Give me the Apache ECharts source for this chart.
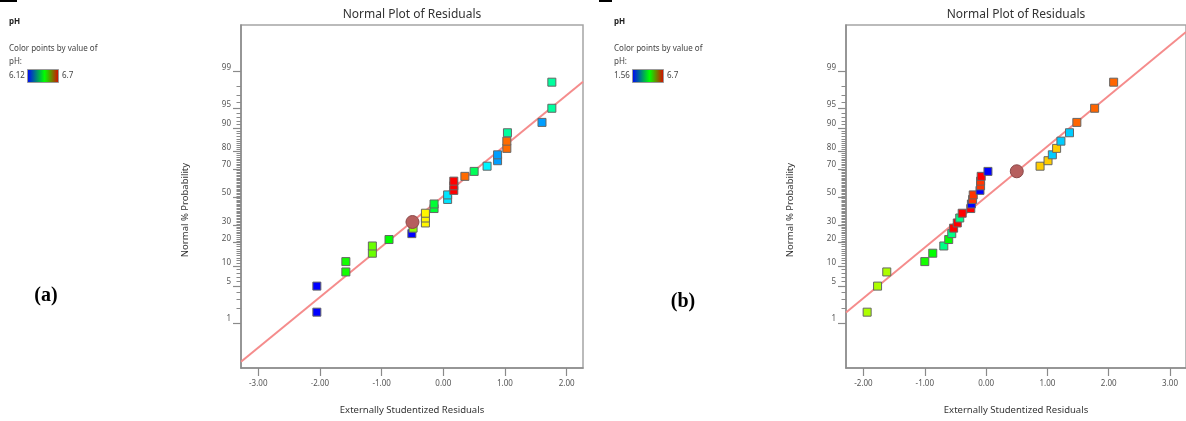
<!DOCTYPE html>
<html><head><meta charset="utf-8">
<script src="https://cdn.jsdelivr.net/npm/echarts@6/dist/echarts.min.js"></script>
<style>html,body{margin:0;padding:0;background:#fff}#c{width:1186px;height:421px}</style>
</head><body><div id="c"></div>
<script>
// ---------- data ----------
const probTickLabels = [1, 5, 10, 20, 30, 50, 70, 80, 90, 95, 99];
const xTickValuesA = [-3, -2, -1, 0, 1, 2];
const xTickValuesB = [-2, -1, 0, 1, 2, 3];

// normal % probability of each ranked residual (same for both panels, 30 runs)
const probA = [1.67, 5, 8.33, 11.67, 15, 18.33, 21.67, 25, 28.33, 31.67, 35, 38.33, 41.67, 45, 48.33,
               51.67, 55, 58.33, 61.67, 65, 68.33, 71.67, 75, 78.33, 81.67, 85, 88.33, 91.67, 95, 98.33];
const residA = [-2.05, -2.05, -1.58, -1.58, -1.15, -1.15, -0.88, -0.51, -0.49, -0.29, -0.29, -0.29, -0.15, -0.15, 0.07,
                0.07, 0.17, 0.17, 0.17, 0.35, 0.50, 0.71, 0.88, 0.88, 1.03, 1.03, 1.04, 1.60, 1.76, 1.76];
const phA = [6.12, 6.12, 6.42, 6.42, 6.47, 6.47, 6.41, 6.12, 6.49, 6.56, 6.56, 6.56, 6.38, 6.38, 6.25,
             6.25, 6.70, 6.70, 6.70, 6.64, 6.36, 6.26, 6.21, 6.21, 6.64, 6.64, 6.32, 6.21, 6.32, 6.32];
const phRangeA = [6.12, 6.7];
const highlightA = [-0.50, 32.3];          // [residual, probability %]
const fitA = [0.934, 0.02];                // [slope, intercept] in normal-score units

const probB = [1.67, 5, 8.33, 11.67, 15, 18.33, 21.67, 25, 28.33, 31.67, 35, 38.33, 41.67, 45, 48.33,
               51.67, 55, 58.33, 61.67, 65, 68.33, 71.67, 75, 78.33, 81.67, 85, 88.33, 91.67, 95, 98.33];
const residB = [-1.94, -1.77, -1.62, -1.00, -0.87, -0.69, -0.61, -0.56, -0.53, -0.47, -0.43, -0.39, -0.25, -0.24, -0.22,
                -0.21, -0.10, -0.09, -0.09, -0.08, 0.03, 0.88, 1.01, 1.08, 1.15, 1.22, 1.36, 1.48, 1.77, 2.08];
const phB = [5.00, 5.00, 5.00, 4.23, 4.13, 3.46, 4.13, 3.46, 6.70, 6.70, 3.46, 6.70, 6.70, 1.56, 6.44,
             6.44, 1.56, 6.44, 6.44, 6.70, 1.56, 5.67, 5.67, 2.59, 5.67, 2.59, 2.59, 6.19, 6.19, 6.19];
const phRangeB = [1.56, 6.7];
const highlightB = [0.50, 68.4];
const fitB = [0.936, 0.004];

// ---------- helpers ----------
function normInv(p) { // Acklam's inverse normal CDF
  const a = [-3.969683028665376e+01, 2.209460984245205e+02, -2.759285104469687e+02, 1.383577518672690e+02, -3.066479806614716e+01, 2.506628277459239e+00];
  const b = [-5.447609879822406e+01, 1.615858368580409e+02, -1.556989798598866e+02, 6.680131188771972e+01, -1.328068155288572e+01];
  const c = [-7.784894002430293e-03, -3.223964580411365e-01, -2.400758277161838e+00, -2.549732539343734e+00, 4.374664141464968e+00, 2.938163982698783e+00];
  const d = [7.784695709041462e-03, 3.224671290700398e-01, 2.445134137142996e+00, 3.754408661907416e+00];
  const pl = 0.02425, ph = 1 - pl;
  let q, r;
  if (p < pl) { q = Math.sqrt(-2 * Math.log(p)); return (((((c[0]*q+c[1])*q+c[2])*q+c[3])*q+c[4])*q+c[5]) / ((((d[0]*q+d[1])*q+d[2])*q+d[3])*q+1); }
  if (p <= ph) { q = p - 0.5; r = q*q; return (((((a[0]*r+a[1])*r+a[2])*r+a[3])*r+a[4])*r+a[5])*q / (((((b[0]*r+b[1])*r+b[2])*r+b[3])*r+b[4])*r+1); }
  q = Math.sqrt(-2 * Math.log(1 - p)); return -(((((c[0]*q+c[1])*q+c[2])*q+c[3])*q+c[4])*q+c[5]) / ((((d[0]*q+d[1])*q+d[2])*q+d[3])*q+1);
}
const z = pct => normInv(pct / 100);
const majorZ = probTickLabels.map(z);
const minorZ = [];
for (let k = 1; k <= 99; k++) if (probTickLabels.indexOf(k) < 0) minorZ.push(z(k));
function probLabel(v) {
  for (let i = 0; i < majorZ.length; i++) if (Math.abs(majorZ[i] - v) < 1e-6) return String(probTickLabels[i]);
  return '';
}

const Y_MIN = -3.16, Y_MAX = 3.185;
const XA = [-3.28, 2.265], XB = [-2.285, 3.26];
const rainbow = ['#0000ff', '#00ffff', '#00ff00', '#ffff00', '#ff0000'];
const FONT = '"Noto Sans", "Open Sans", sans-serif';
const tickGray = '#8a8a8a', labelGray = '#555';

function xAxisCfg(gridIndex, range, ticks) {
  return {
    type: 'value', gridIndex, min: range[0], max: range[1], position: 'bottom',
    axisLine: { show: true, onZero: false, lineStyle: { color: tickGray, width: 1.5 } },
    axisTick: { show: true, length: 8, customValues: ticks, lineStyle: { color: tickGray, width: 1.2 } },
    axisLabel: { show: true, customValues: ticks, margin: 12, fontSize: 8, color: labelGray, fontFamily: FONT,
                 formatter: v => v.toFixed(2) },
    splitLine: { show: false }
  };
}
function yAxisMajor(gridIndex) {
  return {
    type: 'value', gridIndex, min: Y_MIN, max: Y_MAX, position: 'left',
    axisLine: { show: true, onZero: false, lineStyle: { color: tickGray, width: 1.5 } },
    axisTick: { show: true, length: 8, customValues: majorZ, lineStyle: { color: tickGray, width: 1.2 } },
    axisLabel: { show: true, customValues: majorZ, margin: 10, fontSize: 8, color: labelGray, fontFamily: FONT,
                 verticalAlign: 'bottom', formatter: probLabel },
    splitLine: { show: false }
  };
}
function yAxisMinor(gridIndex) {
  return {
    type: 'value', gridIndex, min: Y_MIN, max: Y_MAX, position: 'left', offset: 0,
    axisLine: { show: false, onZero: false },
    axisTick: { show: true, length: 4.5, customValues: minorZ, lineStyle: { color: tickGray, width: 1 } },
    axisLabel: { show: false },
    splitLine: { show: false }
  };
}
function pts(res, prob, ph) { return res.map((r, i) => [r, z(prob[i]), ph[i]]); }
function fitLine(fit, range) { return range.map(x => [x, fit[0] * x + fit[1]]); }

function panelSeries(idx, res, prob, ph, hl, fit, xr) {
  return [
    { type: 'line', xAxisIndex: idx, yAxisIndex: idx * 2, data: fitLine(fit, xr), symbol: 'none', silent: true,
      lineStyle: { color: '#f58c8c', width: 2 }, z: 2, animation: false },
    { type: 'scatter', xAxisIndex: idx, yAxisIndex: idx * 2, data: pts(res, prob, ph), symbol: 'rect', symbolSize: 8,
      itemStyle: { borderColor: '#666', borderWidth: 1, opacity: 1 }, z: 3, animation: false },
    { type: 'scatter', xAxisIndex: idx, yAxisIndex: idx * 2, data: [[hl[0], z(hl[1])]], symbol: 'circle', symbolSize: 13,
      itemStyle: { color: '#b65f5e', borderColor: '#8c4a4a', borderWidth: 1, opacity: 1 }, z: 4, animation: false }
  ];
}

function legend(x0, minLabel) {
  return [
    { type: 'text', x: x0, y: 22, style: { text: 'pH', font: 'bold 8px ' + FONT, fill: '#222', textVerticalAlign: 'middle' } },
    { type: 'text', x: x0, y: 49, style: { text: 'Color points by value of', font: '8px ' + FONT, fill: '#444', textVerticalAlign: 'middle' } },
    { type: 'text', x: x0, y: 62, style: { text: 'pH:', font: '8px ' + FONT, fill: '#444', textVerticalAlign: 'middle' } },
    { type: 'text', x: x0, y: 76, style: { text: minLabel, font: '8px ' + FONT, fill: '#444', textVerticalAlign: 'middle' } },
    { type: 'rect', shape: { x: x0 + 18.5, y: 69.5, width: 31, height: 13 },
      style: { stroke: '#999', lineWidth: 1,
        fill: { type: 'linear', x: 0, y: 0, x2: 1, y2: 0,
          colorStops: [{ offset: 0, color: '#0000ff' }, { offset: 0.55, color: '#00ff00' }, { offset: 1, color: '#e00000' }] } } },
    { type: 'text', x: x0 + 53, y: 76, style: { text: '6.7', font: '8px ' + FONT, fill: '#444', textVerticalAlign: 'middle' } }
  ];
}
function titles(cx, ylabX) {
  return [
    { type: 'text', x: cx, y: 15, style: { text: 'Normal Plot of Residuals', font: '12px ' + FONT, fill: '#333', textAlign: 'center', textVerticalAlign: 'middle' } },
    { type: 'text', x: cx, y: 410, style: { text: 'Externally Studentized Residuals', font: '9.5px ' + FONT, fill: '#333', textAlign: 'center', textVerticalAlign: 'middle' } },
    { type: 'text', x: ylabX, y: 210, rotation: Math.PI / 2, style: { text: 'Normal % Probability', font: '9.5px ' + FONT, fill: '#333', textAlign: 'center', textVerticalAlign: 'middle' } }
  ];
}

const chart = echarts.init(document.getElementById('c'), null, { renderer: 'canvas' });
chart.setOption({
  backgroundColor: '#fff',
  animation: false,
  grid: [
    { left: 241, top: 25, width: 342, height: 343, show: true, borderColor: '#a5a5a5', borderWidth: 1.5, backgroundColor: 'transparent' },
    { left: 846, top: 25, width: 342, height: 343, show: true, borderColor: '#a5a5a5', borderWidth: 1.5, backgroundColor: 'transparent' }
  ],
  xAxis: [xAxisCfg(0, XA, xTickValuesA), xAxisCfg(1, XB, xTickValuesB)],
  yAxis: [yAxisMajor(0), yAxisMinor(0), yAxisMajor(1), yAxisMinor(1)],
  visualMap: [
    { type: 'continuous', show: false, seriesIndex: 1, dimension: 2, min: phRangeA[0], max: phRangeA[1], inRange: { color: rainbow } },
    { type: 'continuous', show: false, seriesIndex: 4, dimension: 2, min: phRangeB[0], max: phRangeB[1], inRange: { color: rainbow } }
  ],
  series: [].concat(
    panelSeries(0, residA, probA, phA, highlightA, fitA, XA),
    panelSeries(1, residB, probB, phB, highlightB, fitB, XB)
  ),
  graphic: [].concat(
    [{ type: 'rect', shape: { x: 0, y: 0, width: 17, height: 2 }, style: { fill: '#000' } },
     { type: 'rect', shape: { x: 599, y: 0, width: 13, height: 2 }, style: { fill: '#000' } }],
    legend(9, '6.12'), legend(614, '1.56'),
    titles(412, 185), titles(1016, 790),
    [{ type: 'text', x: 46, y: 296, style: { text: '(a)', font: 'bold 20px "Liberation Serif", "Times New Roman", serif', fill: '#000', textAlign: 'center', textVerticalAlign: 'middle' } },
     { type: 'text', x: 683, y: 302, style: { text: '(b)', font: 'bold 20px "Liberation Serif", "Times New Roman", serif', fill: '#000', textAlign: 'center', textVerticalAlign: 'middle' } }]
  )
});
</script></body></html>
